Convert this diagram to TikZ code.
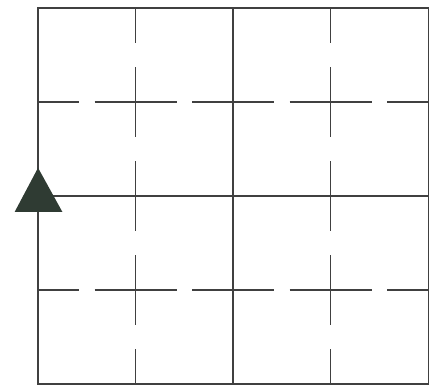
\documentclass[tikz,border=0pt]{standalone}
\usepackage{tikz}
\definecolor{markfill}{HTML}{2F3B33}

\begin{document}
\begin{tikzpicture}[
    x=1.3cm,y=1.253cm,
    grid/.style={draw=black!75,line width=0.5pt},
    marker/.style={fill=markfill}]
  \useasboundingbox (-0.39,-0.032) rectangle (4.07,4.085);
  % solid frame and middle lines
  \draw[grid] (0,0) rectangle (4,4);
  \draw[grid] (2,0) -- (2,4);
  \draw[grid] (0,2) -- (4,2);
  % broken quarter lines, one dash on every crossing
  \foreach \q in {1,3} {
    \foreach \c in {0,...,4} {
      \draw[grid] (\q,{max(\c-0.37,0)}) -- (\q,{min(\c+0.37,4)});
      \draw[grid] ({max(\c-0.42,0)},\q) -- ({min(\c+0.42,4)},\q);
    }
  }
  \fill[marker] (0,2.3) -- (-0.24,1.83) -- (0.25,1.83) -- cycle;
\end{tikzpicture}
\end{document}
